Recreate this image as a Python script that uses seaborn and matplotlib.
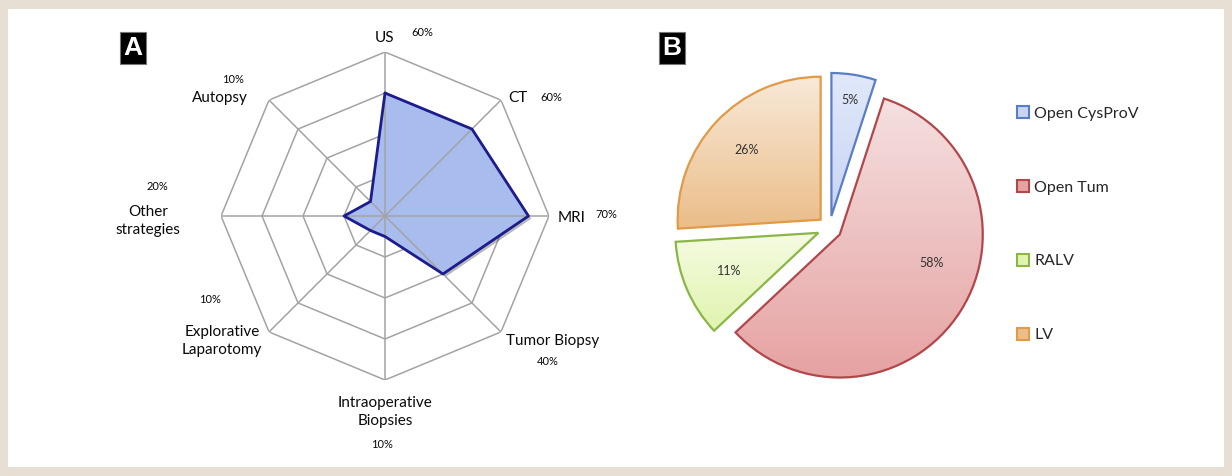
import numpy as np
import seaborn as sns
import matplotlib.pyplot as plt
from matplotlib.patches import Patch, Rectangle
from matplotlib.colors import LinearSegmentedColormap
import matplotlib.patheffects as pe

# ---- painel A: radar ----
categorias = ["US", "CT", "MRI", "Tumor Biopsy", "Intraoperative\nBiopsies",
              "Explorative\nLaparotomy", "Other\nstrategies", "Autopsy"]
valores = [60, 60, 70, 40, 10, 10, 20, 10]
rotulos_pct = ["60%", "60%", "70%", "40%", "10%", "10%", "20%", "10%"]
aneis = [20, 40, 60, 80]

# ---- painel B: pizza ----
tecnicas = ["Open CysProV", "Open Tum", "RALV", "LV"]
percentuais = [5, 58, 11, 26]

sns.set_style("white")
plt.rcParams["font.family"] = ["Lato", "DejaVu Sans"]

fig = plt.figure(figsize=(12.32, 4.76), dpi=100, facecolor="#E7DFD3")
fig.patches.append(Rectangle((8 / 1232, 9 / 476), 1216 / 1232, 458 / 476,
                             transform=fig.transFigure, fc="white", ec="none", zorder=-5))

# radar
ax = fig.add_axes([0.1794, 0.2017, 0.2662, 0.689], projection="polar")
ax.set_facecolor("none")
ax.set_theta_zero_location("N")
ax.set_theta_direction(-1)
rmax = aneis[-1]
ax.set_ylim(0, rmax)
ax.grid(False)
ax.spines["polar"].set_visible(False)
ax.set_xticks([])
ax.set_yticks([])

n = len(categorias)
ang = np.linspace(0, 2 * np.pi, n, endpoint=False)
ang_f = np.append(ang, ang[0])

cinza = "#A3A3A3"
for r in aneis:
    ax.plot(ang_f, [r] * (n + 1), color=cinza, lw=1.1, zorder=1)

vals_f = valores + valores[:1]
ax.fill(ang_f, vals_f, color="#A8BDEE", zorder=2,
        path_effects=[pe.SimplePatchShadow(offset=(2, -2), alpha=0.35), pe.Normal()])
for t in ang:
    ax.plot([t, t], [0, rmax], color=cinza, lw=1.1, zorder=3)
ax.plot(ang_f, vals_f, color="#1C1C8C", lw=2, zorder=4)

# posicoes dos rotulos (pixels a partir do vertice externo)
off_nome = [(0, 14), (17, 2), (23, -2), (52, -9), (0, -32), (-47, -9), (-73, -5), (-49, 2)]
off_pct = [(37, 20), (50, 3), (57, 2), (47, -30), (-3, -65), (-59, 32), (-64, 30), (-36, 21)]
for i in range(n):
    ax.annotate(categorias[i], xy=(ang[i], rmax), xytext=off_nome[i], textcoords="offset pixels",
                ha="center", va="center", fontsize=11, color="#0A0A0A",
                annotation_clip=False, linespacing=1.35)
    ax.annotate(rotulos_pct[i], xy=(ang[i], rmax), xytext=off_pct[i], textcoords="offset pixels",
                ha="center", va="center", fontsize=8, color="#0A0A0A", annotation_clip=False)

# pizza
ax2 = fig.add_axes([0.5282, 0.1455, 0.2902, 0.751])
cores_borda = ["#5A7DC8", "#B0474A", "#8CB547", "#E09A48"]
cores_topo = ["#E0E8FA", "#F5E0E0", "#F5FBE2", "#F8E9D8"]
cores_base = ["#C8D5F3", "#E6A2A2", "#E0F4AE", "#EBBD88"]

wedges, textos, autotextos = ax2.pie(
    percentuais, startangle=90, counterclock=False, explode=[0.085] * 4,
    autopct=lambda p: "{:.0f}%".format(p), pctdistance=0.7,
    wedgeprops=dict(linewidth=1.6),
    textprops=dict(fontsize=9, color="#333333"))

for w, cb, ct, cbase in zip(wedges, cores_borda, cores_topo, cores_base):
    w.set_facecolor("none")
    w.set_edgecolor(cb)
    w.set_zorder(2)
    ext = w.get_path().get_extents()
    cmap = LinearSegmentedColormap.from_list("g", [ct, cbase])
    im = ax2.imshow(np.linspace(0, 1, 256).reshape(-1, 1), cmap=cmap, origin="upper",
                    extent=[ext.x0, ext.x1, ext.y0, ext.y1], aspect="auto", zorder=1)
    im.set_clip_path(w)

# ajuste fino das posicoes dos percentuais
dist_pct = [0.82, 0.67, 0.68, 0.71]
desvio_ang = [0, 15, 0, 0]
for w, t, d, da in zip(wedges, autotextos, dist_pct, desvio_ang):
    meio = np.deg2rad((w.theta1 + w.theta2) / 2 + da)
    cx, cy = w.center
    t.set_position((cx + d * np.cos(meio), cy + d * np.sin(meio)))
    t.set_zorder(5)

ax2.set_xlim(-1.25, 1.25)
ax2.set_ylim(-1.25, 1.25)
ax2.set_aspect("equal")
ax2.axis("off")

handles = [Patch(facecolor=cbase, edgecolor=cb, linewidth=1.5)
           for cb, cbase in zip(cores_borda, cores_base)]
fig.legend(handles, tecnicas, loc="upper left", bbox_to_anchor=(1003 / 1232, 1 - 92 / 476),
           frameon=False, handlelength=0.75, handleheight=0.75, handletextpad=0.3,
           labelspacing=3.72, fontsize=11.5)

# letras dos paineis
for letra, x in [("A", 133), ("B", 672)]:
    fig.text(x / 1232, 1 - 48 / 476, letra, color="white", fontsize=19, fontweight="bold",
             family="Liberation Sans", ha="center", va="center",
             bbox=dict(boxstyle="square,pad=0.15", fc="black", ec="#777777", lw=0.8))

fig.savefig("out.png", dpi=100, facecolor=fig.get_facecolor())
